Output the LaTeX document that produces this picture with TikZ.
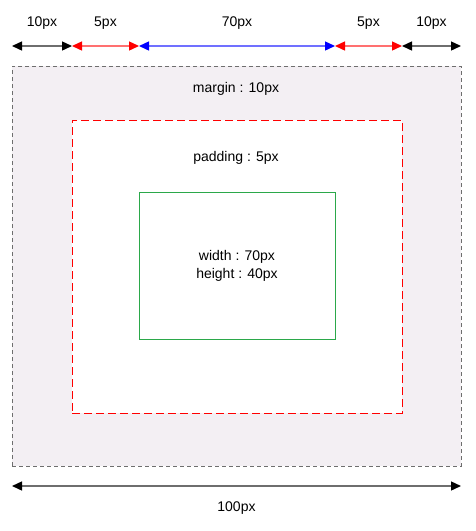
\documentclass[tikz,border=0pt]{standalone}
\usepackage{fontspec}
\setmainfont{Liberation Sans}
\usetikzlibrary{arrows.meta}
\definecolor{marginfill}{HTML}{F3EFF3}
\definecolor{dimgray}{HTML}{6E6E6E}
\definecolor{lightred}{HTML}{FF7070}
\definecolor{lightblue}{HTML}{7070FF}
\definecolor{boxgreen}{HTML}{2BA84A}
\begin{document}
\begin{tikzpicture}[x=1pt,y=-1pt,font=\fontsize{14}{18}\selectfont,
	dim/.style 2 args={draw=#2,line width=1.4pt,
		{Triangle[length=10pt,width=9pt,color=#1]}-{Triangle[length=10pt,width=9pt,color=#1]}},
	box/.style={draw,line width=0.8pt,inner sep=0pt,align=center}]
	\useasboundingbox (0,0) rectangle (475,531);
	% boxes
	\node[box,draw=dimgray,dash pattern=on 4pt off 3pt,fill=marginfill,
		minimum width=449pt,minimum height=400pt] (margin) at (236.5,266) {};
	\node[box,draw=red,dash pattern=on 8pt off 4pt,fill=white,
		minimum width=330pt,minimum height=293pt] (padding) at (237,266.5) {};
	\node[box,draw=boxgreen,fill=white,
		minimum width=196pt,minimum height=147pt] (content) at (237,265.5) {width : 70px\\height : 40px};
	\node (marginlbl) at (236,89) {margin : 10px};
	\node (paddinglbl) at (236,158) {padding : 5px};
	% top dimensions
	\foreach \n/\x in {a/12,b/72,c/139,d/335,e/402,f/461}{
		\coordinate (\n) at (\x,46);}
	\draw[dim={black}{dimgray}] (a)--(b) node[midway,above=13pt]{10px};
	\draw[dim={red}{lightred}] (b)--(c) node[midway,above=13pt]{5px};
	\draw[dim={blue}{lightblue}] (c)--(d) node[midway,above=13pt]{70px};
	\draw[dim={red}{lightred}] (d)--(e) node[midway,above=13pt]{5px};
	\draw[dim={black}{dimgray}] (e)--(f) node[midway,above=13pt]{10px};
	% bottom dimension
	\coordinate (g) at (12,486);
	\coordinate (h) at (461,486);
	\draw[dim={black}{dimgray}] (g)--(h) node[midway,below=12pt]{100px};
\end{tikzpicture}
\end{document}
